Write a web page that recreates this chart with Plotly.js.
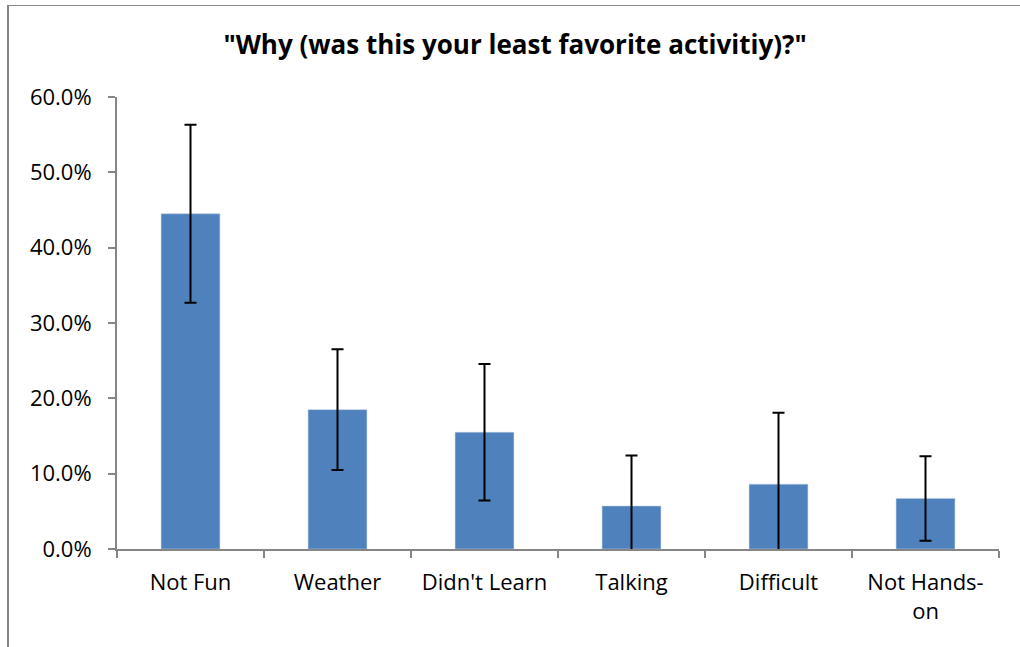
<!DOCTYPE html>
<html>
<head>
<meta charset="utf-8">
<script src="https://cdn.plot.ly/plotly-3.0.1.min.js"></script>
<style>
  html, body { margin: 0; padding: 0; background: #fff; }
  #wrap { position: relative; width: 1020px; height: 647px; }
  #chart { width: 1020px; height: 647px; }
  #frame { position: absolute; left: 7px; top: 5px; width: 1013px; height: 642px;
           border-left: 2px solid #868686; border-top: 1px solid #868686;
           pointer-events: none; box-sizing: border-box; }
</style>
</head>
<body>
<div id="wrap">
  <div id="chart"></div>
  <div id="frame"></div>
</div>
<script>
const categories = ["Not Fun", "Weather", "Didn't Learn", "Talking", "Difficult", "Not Hands-<br>on"];
const values = [0.445, 0.185, 0.155, 0.057, 0.086, 0.067];
const errors = [0.118, 0.080, 0.0905, 0.067, 0.095, 0.056];
const yTicks = [0, 0.1, 0.2, 0.3, 0.4, 0.5, 0.6];

const font = "Open Sans, Liberation Sans, sans-serif";

Plotly.newPlot('chart', [{
  type: 'bar',
  x: categories,
  y: values,
  marker: { color: '#4f81bd', line: { color: '#b9cde5', width: 0.5 } },
  width: 0.4,
  error_y: { type: 'data', array: errors, visible: true, color: '#000', thickness: 2, width: 6 },
  hoverinfo: 'none'
}], {
  width: 1020, height: 647,
  margin: { l: 117, r: 21, t: 97, b: 98 },
  paper_bgcolor: '#fff', plot_bgcolor: '#fff',
  showlegend: false,
  title: { text: '"Why (was this your least favorite activitiy)?"', x: 0.505, xanchor: 'center', y: 0.93, yanchor: 'middle',
           font: { family: font, size: 26, color: '#000', weight: 'bold' } },
  xaxis: {
    type: 'category', tickson: 'boundaries',
    showline: true, linecolor: '#868686', linewidth: 2,
    ticks: 'outside', ticklen: 7, tickcolor: '#868686', tickwidth: 2,
    showgrid: false, zeroline: false,
    tickfont: { family: font, size: 22, color: '#000' }, ticklabelstandoff: 13
  },
  yaxis: {
    range: [0, 0.6], tickvals: yTicks, tickformat: '.1%',
    showline: true, linecolor: '#868686', linewidth: 2,
    ticks: 'outside', ticklen: 7, tickcolor: '#868686', tickwidth: 2,
    showgrid: false, zeroline: false,
    tickfont: { family: font, size: 22, color: '#000' }, ticklabelstandoff: 12
  }
}, { displayModeBar: false, staticPlot: true });
</script>
</body>
</html>
